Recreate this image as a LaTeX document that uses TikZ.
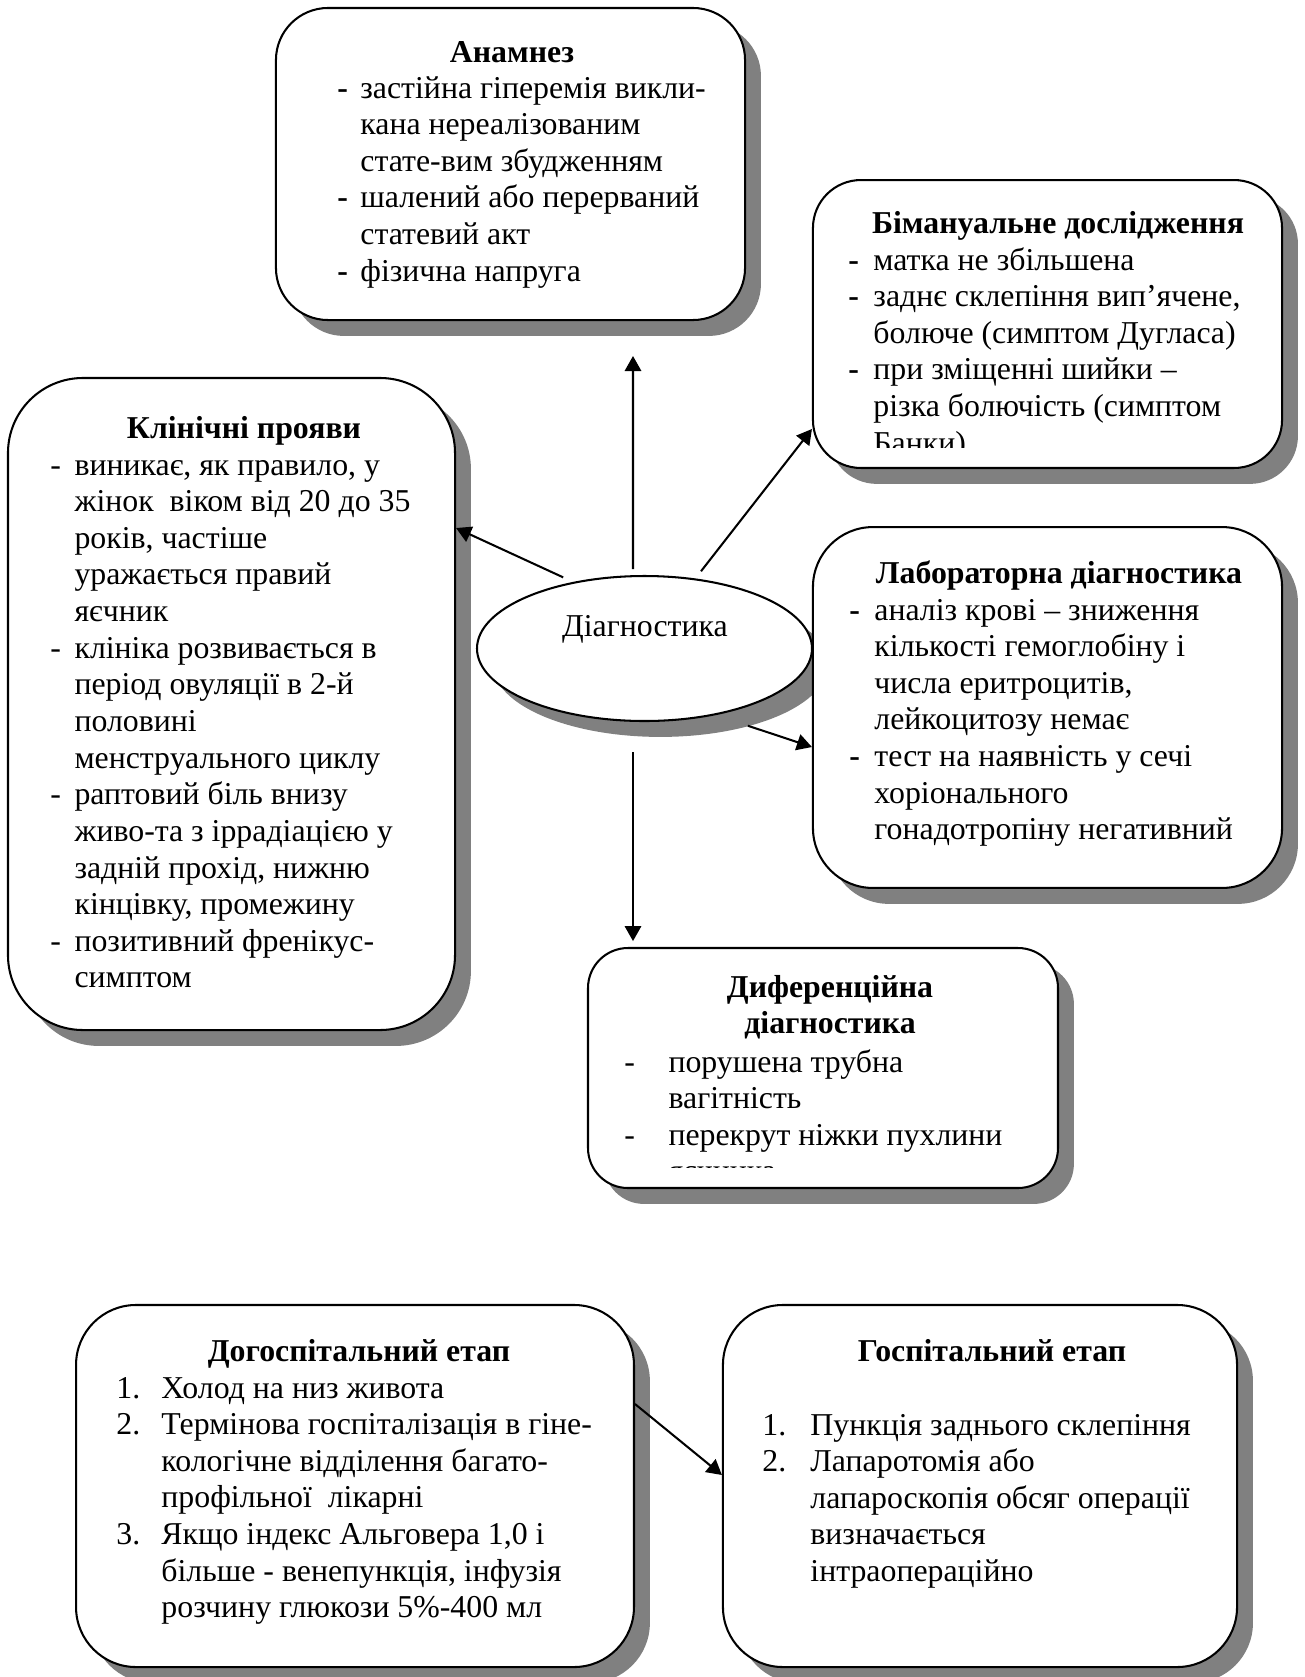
\documentclass[tikz,border=0pt]{standalone}
\usepackage{fontspec}
\setmainfont{Liberation Serif}
\usetikzlibrary{arrows.meta,shapes.geometric,shadows}
\definecolor{shadowgray}{gray}{0.5}
\newcommand{\cardfont}{\fontsize{14}{16.12}\selectfont}
\tikzset{
  card/.style={draw, line width=0.9pt, fill=white, inner sep=0pt,
    drop shadow={shadow xshift=7pt, shadow yshift=-7pt, fill=shadowgray, opacity=1}},
  head/.style={anchor=base, inner sep=0pt, font=\cardfont\bfseries},
  body/.style={anchor=base west, inner sep=0pt},
  arr/.style={-{Triangle[length=6.6pt,width=7.2pt]}, line width=0.9pt}
}
\begin{document}
\begin{tikzpicture}[x=0.44pt, y=-0.44pt, font=\cardfont]
  \useasboundingbox (0,0) rectangle (1305,1677);

  \node[card, ellipse, minimum width=147.4pt, minimum height=63.8pt] (diag) at (644.5,648.5) {};
  \node[anchor=base, inner sep=0pt] (diaglbl) at (645,636) {Діагностика};

  \node[card, rounded corners=22.9pt, minimum width=206.4pt, minimum height=137.3pt] (anam) at (510.5,164) {};
  \node[card, rounded corners=21.1pt, minimum width=206.4pt, minimum height=126.7pt] (bim) at (1047.5,324) {};
  \node[card, rounded corners=33pt, minimum width=196.7pt, minimum height=286.9pt] (klin) at (231.5,704) {};
  \node[card, rounded corners=26.4pt, minimum width=206.4pt, minimum height=158.8pt] (lab) at (1047.5,707.5) {};
  \node[card, rounded corners=17.6pt, minimum width=206.8pt, minimum height=105.6pt] (diff) at (823,1068) {};
  \node[card, rounded corners=26.4pt, minimum width=245.5pt, minimum height=159.3pt] (dohosp) at (355,1486) {};
  \node[card, rounded corners=26.4pt, minimum width=226.2pt, minimum height=159.3pt] (hosp) at (980,1486) {};

  \node[head] (anamhd) at (512,62) {Анамнез};
  \node[body] (anamtxt) at (337,98) {\begin{tabular}[t]{@{}p{10.1pt}@{}l@{}}
    \textbf{-} & застійна гіперемія викли-\\
     & кана нереалізованим\\
     & стате-вим збудженням\\
    \textbf{-} & шалений або перерваний\\
     & статевий акт\\
    \textbf{-} & фізична напруга
  \end{tabular}};

  \node[head] (bimhd) at (1058,233) {Бімануальне дослідження};
  \begin{scope}
    \clip (820,240) rectangle (1275,447);
    \node[body] (bimtxt) at (848,270) {\begin{tabular}[t]{@{}p{11pt}@{}l@{}}
      \textbf{-} & матка не збільшена\\
      \textbf{-} & заднє склепіння вип’ячене,\\
       & болюче (симптом Дугласа)\\
      \textbf{-} & при зміщенні шийки –\\
       & різка болючість (симптом\\
       & Банки)
    \end{tabular}};
  \end{scope}

  \node[head] (klinhd) at (244,438) {Клінічні прояви};
  \node[body] (klintxt) at (50,475) {\begin{tabular}[t]{@{}p{10.6pt}@{}l@{}}
    - & виникає, як правило, у\\
     & жінок~ віком від 20 до 35\\
     & років, частіше\\
     & уражається правий\\
     & яєчник\\
    - & клініка розвивається в\\
     & період овуляції в 2-й\\
     & половині\\
     & менструального циклу\\
    - & раптовий біль внизу\\
     & живо-та з іррадіацією у\\
     & задній прохід, нижню\\
     & кінцівку, промежину\\
    - & позитивний френікус-\\
     & симптом
  \end{tabular}};

  \node[head] (labhd) at (1059,583) {Лабораторна діагностика};
  \node[body] (labtxt) at (849,620) {\begin{tabular}[t]{@{}p{11pt}@{}l@{}}
    \textbf{-} & аналіз крові – зниження\\
     & кількості гемоглобіну і\\
     & числа еритроцитів,\\
     & лейкоцитозу немає\\
    \textbf{-} & тест на наявність у сечі\\
     & хоріонального\\
     & гонадотропіну негативний
  \end{tabular}};

  \node[head] (diffhd) at (830,997) {\begin{tabular}[t]{@{}c@{}}Диференційна\\діагностика\end{tabular}};
  \begin{scope}
    \clip (600,1045) rectangle (1050,1167);
    \node[body] (difftxt) at (624,1072) {\begin{tabular}[t]{@{}p{19.4pt}@{}l@{}}
      - & порушена трубна\\
       & вагітність\\
      - & перекрут ніжки пухлини\\
       & яєчника
    \end{tabular}};
  \end{scope}

  \node[head] (dohosphd) at (359,1361) {Догоспітальний етап};
  \node[body] (dohosptxt) at (116,1398) {\begin{tabular}[t]{@{}p{19.8pt}@{}l@{}}
    1. & Холод на низ живота\\
    2. & Термінова госпіталізація в гіне-\\
     & кологічне відділення багато-\\
     & профільної~ лікарні\\
    3. & Якщо індекс Альговера 1,0 і\\
     & більше - венепункція, інфузія\\
     & розчину глюкози 5\%-400 мл
  \end{tabular}};

  \node[head] (hosphd) at (992,1361) {Госпітальний етап};
  \node[body] (hosptxt) at (762,1435) {\begin{tabular}[t]{@{}p{21.1pt}@{}l@{}}
    1. & Пункція заднього склепіння\\
    2. & Лапаротомія або\\
     & лапароскопія обсяг операції\\
     & визначається\\
     & інтраопераційно
  \end{tabular}};

  \coordinate (anamtip) at (633,356);
  \draw[arr, shorten <=2.6pt] ([xshift=-5.06pt]diag.north) -- (anamtip);
  \draw[arr, shorten <=4.8pt] (diag.137) -- (klin.east |- 0,528);
  \draw[arr, shorten <=4pt] (diag.54) -- (bim.west |- 0,429);
  \draw[arr, shorten <=14.8pt] (diag.-43) -- (lab.west |- 0,747);
  \draw[arr, shorten <=13.2pt, shorten >=2.6pt] ([xshift=-5.06pt]diag.south) -- ([xshift=-5.06pt]diag.south |- diff.north);
  \draw[arr] (dohosp.east |- 0,1404) -- (hosp.west |- 0,1475);
\end{tikzpicture}
\end{document}
